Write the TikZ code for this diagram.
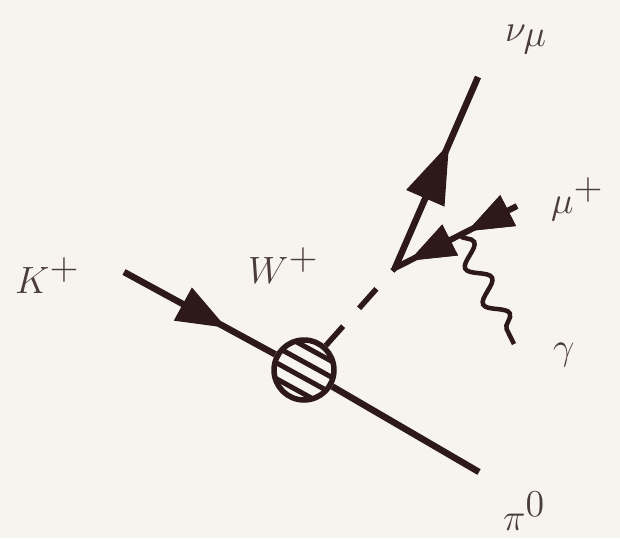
\documentclass[tikz,border=0pt]{standalone}
\usepackage{graphicx}
\usetikzlibrary{arrows.meta,decorations.markings,decorations.pathmorphing,calc}
\definecolor{bg}{RGB}{247,243,239}
\definecolor{ink}{RGB}{45,25,25}
\definecolor{txt}{RGB}{75,60,60}
\newcommand{\biglab}[1]{\scalebox{2.64}{\Large$#1$}}
\begin{document}
\begin{tikzpicture}[x=1pt,y=-1pt,
  fline/.style={draw=ink,line width=6.5pt},
  lab/.style={text=txt,inner sep=0pt,anchor=base west},
  blobnode/.style={circle,draw=ink,line width=5.5pt,minimum size=60pt,inner sep=0pt,fill=bg},
  midhead/.style n args={3}{postaction={decorate},decoration={markings,
     mark=at position #1 with {\arrow[ink]{Triangle[length=#2,width=#3]}}}}]
\fill[bg] (0,0) rectangle (620,538);
\useasboundingbox (0,0) rectangle (620,538);
% nodes
\node[blobnode] (blob) at (304,370) {};
\coordinate (kin) at (124,272);
\coordinate (pout) at (479,472);
\coordinate (v) at (395,268);
\coordinate (nu) at (478,77);
\coordinate (mu) at (517,206);
\coordinate (ph) at ($(v)!0.53!(mu)$);
\coordinate (gam) at (514,344);
% hatching
\begin{scope}
  \clip (blob.center) circle (28pt);
  \foreach \d in {-21,-7,7,21}
    \draw[ink,line width=5pt] ($(blob.center)+(-0.482*\d+40,0.876*\d+22)$) -- ($(blob.center)+(-0.482*\d-40,0.876*\d-22)$);
\end{scope}
% lines
\draw[fline,midhead={117pt}{50pt}{36pt}] (kin) -- (blob);
\draw[fline] (blob) -- (pout);
\draw[fline,line width=5.5pt,dash pattern=on 26pt off 24pt] (blob) -- (v);
\draw[fline,midhead={136pt}{60pt}{40pt}] (v) -- (nu);
\draw[fline,line width=6pt,midhead={56pt}{46pt}{33pt},midhead={121pt}{46pt}{33pt}] (mu) -- (v);
\draw[ink,line width=4.5pt,decorate,decoration={snake,segment length=40pt,amplitude=10pt}] (ph) -- (gam);
% labels
\node[lab] (lK) at (15,293) {\biglab{K^{\textstyle +}}};
\node[lab] (lW) at (248,283) {\biglab{W^{\textstyle +}}};
\node[lab] (lnu) at (505,41) {\biglab{\nu_{\textstyle\mu}}};
\node[lab] (lmu) at (551,213) {\biglab{\mu^{\textstyle +}}};
\node[lab] (lg) at (553,359) {\biglab{\gamma}};
\node[lab] (lpi) at (503,530) {\biglab{\pi^{\textstyle 0}}};
\end{tikzpicture}
\end{document}
